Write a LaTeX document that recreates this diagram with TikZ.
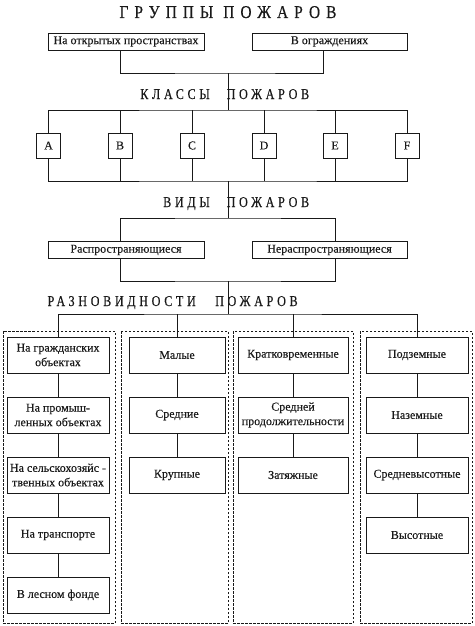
\documentclass[tikz,border=0pt]{standalone}
\usepackage{fontspec}
\setmainfont{Liberation Serif}
\newfontfamily\titlefont[LetterSpace=34,FakeStretch=0.85,FakeBold=0.4]{Liberation Serif}
\newfontfamily\headfont[LetterSpace=25,FakeStretch=0.8,FakeBold=0.4]{Liberation Serif}
\newfontfamily\boxfont[FakeBold=0.25]{Liberation Serif}
\definecolor{ink}{gray}{0.1}
\begin{document}
\begin{tikzpicture}[x=1pt,y=-1pt,
  box/.style={draw=ink, line width=0.9pt, inner sep=0pt, align=center, text=ink,
    font=\boxfont\fontsize{12}{14.5}\selectfont},
  letterbox/.style={box, minimum width=24, minimum height=25},
  wide/.style={box, minimum height=17},
  colbox/.style={box, minimum height=36},
  conn/.style={draw=ink, line width=0.9pt},
  frame/.style={draw=ink, line width=0.7pt, dash pattern=on 2.5pt off 1.5pt},
  title/.style={font=\titlefont\fontsize{18}{20}\selectfont, text=ink, inner sep=0pt},
  head/.style={font=\headfont\fontsize{15}{17}\selectfont, text=ink, inner sep=0pt}]
\useasboundingbox (0,0) rectangle (474,626);

% title
\node[title, anchor=base] (ttl) at (228,18) {ГРУППЫ ПОЖАРОВ};

% groups
\node[wide, minimum width=156] (o1) at (126,41.5) {На открытых пространствах};
\node[wide, minimum width=155] (o2) at (329.5,41.5) {В ограждениях};
\coordinate (j1) at (228,73);
\coordinate (j2) at (228,110);
\draw[conn] ([xshift=-6pt]o1.south) |- (j1) -| ([xshift=-6.5pt]o2.south);
\draw[conn] (j1) -- (j2);

% classes heading
\node[head, anchor=base east] (h1a) at (210,99) {КЛАССЫ};
\node[head, anchor=base west] (h1b) at (226.5,99) {ПОЖАРОВ};

% class letters
\node[letterbox] (LA) at (48.5,145.5) {A};
\node[letterbox] (LB) at (120,145.5) {B};
\node[letterbox] (LC) at (192,145.5) {C};
\node[letterbox] (LD) at (264,145.5) {D};
\node[letterbox] (LE) at (335,145.5) {E};
\node[letterbox] (LF) at (407,145.5) {F};
\coordinate (j3) at (228,181);
\draw[conn] (LA.north) |- (j2) -| (LF.north);
\draw[conn] (LA.south) |- (j3) -| (LF.south);
\foreach \n in {LB,LC,LD,LE}{
  \draw[conn] (\n.north) -- (\n.north |- j2);
  \draw[conn] (\n.south) -- (\n.south |- j3);
}
\coordinate (j4) at (228,218);
\draw[conn] (j3) -- (j4);

% kinds heading
\node[head, anchor=base east] (h2a) at (210,207) {ВИДЫ};
\node[head, anchor=base west] (h2b) at (226.5,207) {ПОЖАРОВ};

% kinds
\node[wide, minimum width=156] (r1) at (126,250) {Распространяющиеся};
\node[wide, minimum width=155] (r2) at (329.5,250) {Нераспространяющиеся};
\coordinate (j5) at (228,281);
\draw[conn] ([xshift=-6pt]r1.north) |- (j4) -| ([xshift=5.5pt]r2.north);
\draw[conn] ([xshift=-6pt]r1.south) |- (j5) -| ([xshift=5.5pt]r2.south);
\coordinate (j6) at (228,314);
\draw[conn] (j5) -- (j6);

% varieties heading
\node[head, anchor=base east] (h3a) at (196,306) {РАЗНОВИДНОСТИ};
\node[head, anchor=base west] (h3b) at (215,306) {ПОЖАРОВ};

% dashed frames
\draw[frame] (3,331) rectangle (115,623);
\draw[frame] (121,331) rectangle (228,623);
\draw[frame] (233,331) rectangle (353,623);
\draw[frame] (360,331) rectangle (472,623);

% column 1
\node[colbox, minimum width=102] (g1) at (58,355) {На гражданских\\объектах};
\node[colbox, minimum width=102] (g2) at (58,415) {На промыш-\\ленных объектах};
\node[colbox, minimum width=102] (g3) at (58,475) {На сельскохозяйс -\\твенных объектах};
\node[colbox, minimum width=102] (g4) at (58,535) {На транспорте};
\node[colbox, minimum width=102] (g5) at (58,595) {В лесном фонде};
% column 2
\node[colbox, minimum width=96] (s1) at (177,355) {Малые};
\node[colbox, minimum width=96] (s2) at (177,415) {Средние};
\node[colbox, minimum width=96] (s3) at (177,475) {Крупные};
% column 3
\node[colbox, minimum width=110] (d1) at (293,355) {Кратковременные};
\node[colbox, minimum width=110] (d2) at (293,415) {Средней\\продолжительности};
\node[colbox, minimum width=110] (d3) at (293,475) {Затяжные};
% column 4
\node[colbox, minimum width=102] (k1) at (417,355) {Подземные};
\node[colbox, minimum width=102] (k2) at (417,415) {Наземные};
\node[colbox, minimum width=102] (k3) at (417,475) {Средневысотные};
\node[colbox, minimum width=102] (k4) at (417,535) {Высотные};

% bus to columns
\draw[conn] (g1.north) |- (j6) -| (k1.north);
\draw[conn] (s1.north) -- (s1.north |- j6);
\draw[conn] (d1.north) -- (d1.north |- j6);

% chains
\draw[conn] (g1) -- (g2) (g2) -- (g3) (g3) -- (g4) (g4) -- (g5);
\draw[conn] (s1) -- (s2) (s2) -- (s3);
\draw[conn] (d1) -- (d2) (d2) -- (d3);
\draw[conn] (k1) -- (k2) (k2) -- (k3) (k3) -- (k4);
\end{tikzpicture}
\end{document}
